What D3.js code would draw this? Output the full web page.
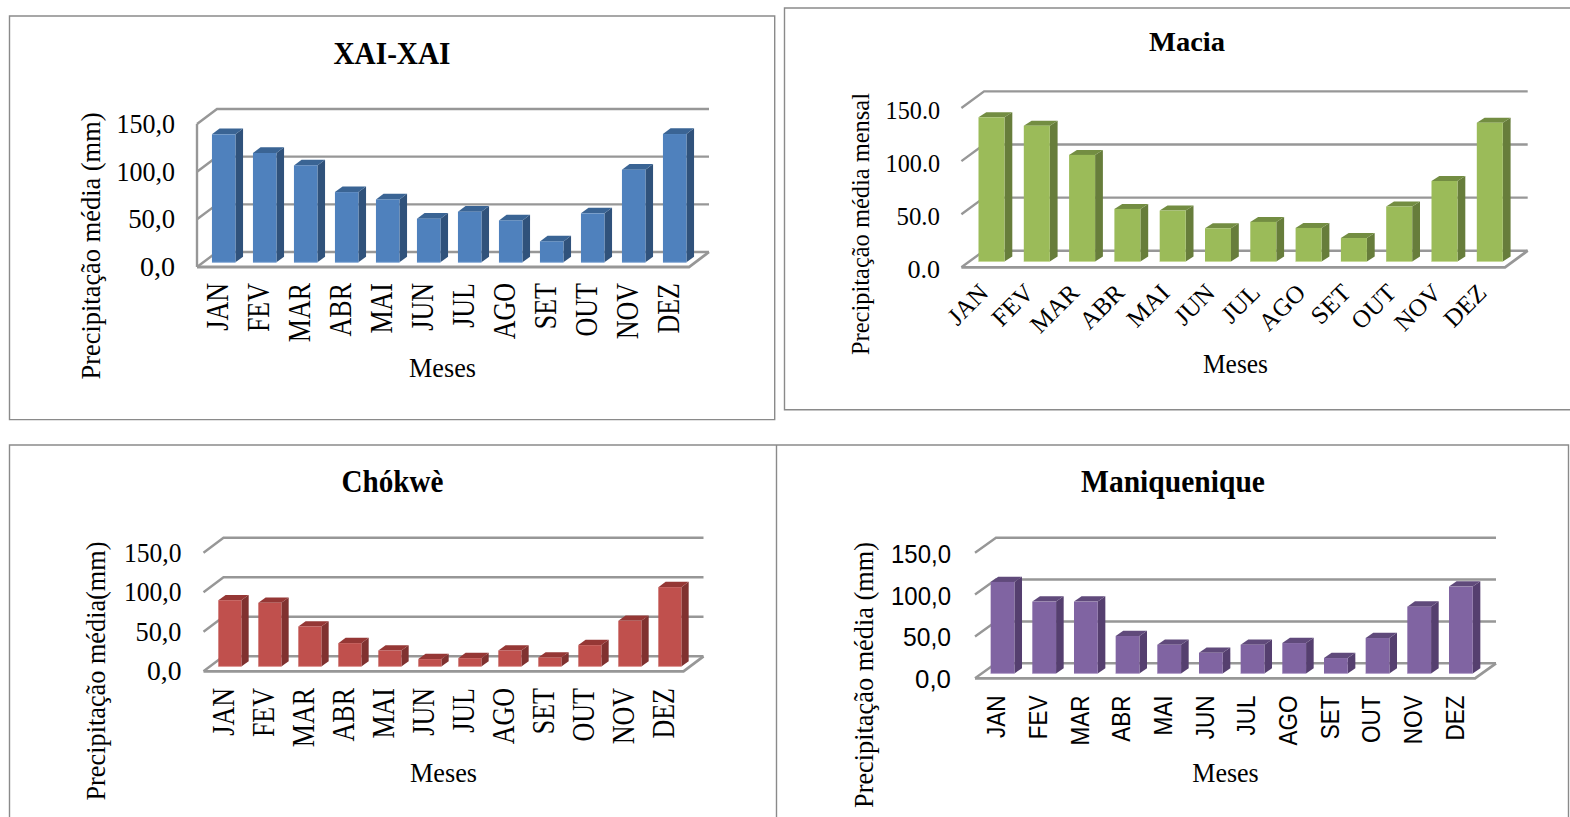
<!DOCTYPE html>
<html>
<head>
<meta charset="utf-8">
<title>Precipitação média mensal</title>
<script src="https://cdnjs.cloudflare.com/ajax/libs/d3/7.8.5/d3.min.js"></script>
<style>
  html, body { margin: 0; padding: 0; background: #fff; overflow: hidden; }
  svg { display: block; }
</style>
</head>
<body>
<svg id="chart" width="1570" height="817"></svg>
<script>
// Monthly mean rainfall per station, in mm
const months = ["JAN", "FEV", "MAR", "ABR", "MAI", "JUN", "JUL", "AGO", "SET", "OUT", "NOV", "DEZ"];
const axisTicks = [0, 50, 100, 150];
const xaiXaiValues = [134.3, 114.7, 101.7, 73.7, 66.0, 45.8, 53.1, 44.0, 22.0, 51.4, 97.2, 134.6];
const maciaValues = [135.8, 127.9, 100.4, 49.5, 48.0, 31.3, 37.3, 31.6, 22.1, 51.8, 75.8, 130.7];
const chokweValues = [83.8, 80.5, 50.6, 29.5, 20.2, 9.3, 10.5, 20.2, 11.4, 27.0, 57.7, 100.3];
const maniqueniqueValues = [109.3, 85.8, 85.8, 44.7, 34.3, 24.7, 34.3, 36.3, 18.4, 42.3, 79.8, 103.7];

const SERIF = "'Liberation Serif', 'Times New Roman', serif";
const SANS = "'Liberation Sans', Arial, sans-serif";
const GRID = "#979797";

const panels = [
  {
    title: "XAI-XAI", yTitle: "Precipitação média (mm)", values: xaiXaiValues, decimal: ",",
    fill: "#4f81bd", side: "#30527b", top: "#3a6494", edge: "#8fb0d8",
    left: 197, right: 689, y0: 267, y150: 124, depthX: 20, depthY: 15, barDepthX: 7.6, barDepthY: 5.7,
    barRatio: 0.573, wall: true,
    titleX: 392, titleY: 63.5, titleLen: 117, titleSize: 31,
    tickRight: 175, tickLen: 58.5, tickSize: 27, tickFont: SERIF, tickDy: 8.5,
    catY: 283, catSize: 26, catStretch: 1.2, catFont: SERIF, catAngle: -90, catShift: 0.5,
    xTitleX: 442.5, xTitleY: 377, xTitleLen: 67,
    yTitleX: 99.5, yTitleY: 246, yTitleLen: 267, yTitleSize: 27
  },
  {
    title: "Macia", yTitle: "Precipitação média mensal", values: maciaValues, decimal: ".",
    fill: "#9bbb59", side: "#677d3b", top: "#738d42", edge: "#c6d99a",
    left: 961.4, right: 1505, y0: 267.3, y150: 108, depthX: 22.7, depthY: 16.6, barDepthX: 7.8, barDepthY: 5,
    barRatio: 0.574, wall: false,
    titleX: 1187, titleY: 50.5, titleLen: 76, titleSize: 28,
    tickRight: 940, tickLen: 54.4, tickSize: 26, tickFont: SERIF, tickDy: 10,
    catY: 289, catSize: 25, catStretch: 1, catFont: SERIF, catAngle: -45, catShift: 0.5,
    xTitleX: 1235.5, xTitleY: 372.5, xTitleLen: 65,
    yTitleX: 868.5, yTitleY: 224, yTitleLen: 262, yTitleSize: 25
  },
  {
    title: "Chókwè", yTitle: "Precipitação média(mm)", values: chokweValues, decimal: ",",
    fill: "#c0504d", side: "#803230", top: "#953735", edge: "#dd9795",
    left: 203.5, right: 683.5, y0: 671.3, y150: 552.7, depthX: 20, depthY: 15, barDepthX: 7.3, barDepthY: 5.3,
    barRatio: 0.576, wall: false,
    titleX: 392.5, titleY: 492, titleLen: 102, titleSize: 31,
    tickRight: 181.5, tickLen: 57.5, tickSize: 27, tickFont: SERIF, tickDy: 8.5,
    catY: 688, catSize: 26, catStretch: 1.2, catFont: SERIF, catAngle: -90, catShift: 0.5,
    xTitleX: 443.5, xTitleY: 781.5, xTitleLen: 67,
    yTitleX: 104.5, yTitleY: 671, yTitleLen: 259, yTitleSize: 27
  },
  {
    title: "Maniquenique", yTitle: "Precipitação média (mm)", values: maniqueniqueValues, decimal: ",",
    fill: "#8064a2", side: "#553f6f", top: "#604a7b", edge: "#b5a2cb",
    left: 975, right: 1475, y0: 678.3, y150: 552.7, depthX: 21, depthY: 15, barDepthX: 7.6, barDepthY: 5.3,
    barRatio: 0.57, wall: false,
    titleX: 1173, titleY: 492, titleLen: 184, titleSize: 31,
    tickRight: 951, tickLen: 60, tickSize: 25, tickFont: SANS, tickDy: 9.5,
    catY: 695.5, catSize: 22.5, catStretch: 1.13, catFont: SANS, catAngle: -90, catShift: 1,
    xTitleX: 1225.5, xTitleY: 781.5, xTitleLen: 66.5,
    yTitleX: 873, yTitleY: 675, yTitleLen: 266, yTitleSize: 27
  }
];

const svg = d3.select("#chart");

// Outer frames of the four chart boxes
const frames = svg.append("g").attr("fill", "none").attr("stroke", "#8a8a8a").attr("stroke-width", 1.4);
frames.append("path").attr("d", "M9.5,16H774.7V419.6H9.5Z");
frames.append("path").attr("d", "M1570,8H784.5V409.8H1570");
frames.append("path").attr("d", "M9.5,817V445H1568.5V817M776.5,445V817");

// Text squeezed to a known run length so every label fills its slot
function fit(sel, length) {
  return sel.attr("textLength", length).attr("lengthAdjust", "spacingAndGlyphs");
}

panels.forEach(p => {
  const g = svg.append("g");

  const x = d3.scaleBand().domain(months).range([p.left, p.right])
    .paddingInner(1 - p.barRatio).paddingOuter((1 - p.barRatio) / 2);
  const y = d3.scaleLinear().domain([0, 150]).range([p.y0, p.y150]);

  // Bars sit halfway through the floor depth
  const insetX = (p.depthX - p.barDepthX) / 2;
  const insetY = (p.depthY - p.barDepthY) / 2;

  // Back-wall gridlines with their diagonal returns on the side wall
  const grid = g.append("g").attr("fill", "none").attr("stroke", GRID).attr("stroke-width", 2.4);
  grid.selectAll("path.grid").data(axisTicks).join("path")
    .attr("class", "grid")
    .attr("d", t => `M${p.left},${y(t)}L${p.left + p.depthX},${y(t) - p.depthY}H${p.right + p.depthX}`);

  // Floor outline
  grid.append("path")
    .attr("stroke-width", 2.8)
    .attr("d", `M${p.left},${p.y0}H${p.right}L${p.right + p.depthX},${p.y0 - p.depthY}`);
  if (p.wall) {
    grid.append("path").attr("d", `M${p.left},${y(150)}V${p.y0}`);
  }

  // Extruded columns: side face, top face, front face
  const bar = g.selectAll("g.bar").data(p.values).join("g").attr("class", "bar");
  const bx = (d, i) => x(months[i]) + insetX;
  const by = d => y(d) - insetY;
  const bw = x.bandwidth();
  const base = y(0) - insetY;

  bar.append("path").attr("fill", p.side)
    .attr("d", (d, i) => {
      const r = bx(d, i) + bw;
      return `M${r},${by(d)}l${p.barDepthX},${-p.barDepthY}V${base - p.barDepthY}L${r},${base}Z`;
    });
  bar.append("path").attr("fill", p.top)
    .attr("d", (d, i) => `M${bx(d, i)},${by(d)}l${p.barDepthX},${-p.barDepthY}h${bw}l${-p.barDepthX},${p.barDepthY}Z`);
  bar.append("rect").attr("fill", p.fill)
    .attr("x", bx).attr("y", by).attr("width", bw).attr("height", d => base - by(d));
  bar.append("line").attr("stroke", p.edge).attr("stroke-width", 1)
    .attr("x1", bx).attr("x2", (d, i) => bx(d, i) + bw).attr("y1", base).attr("y2", base);

  // Value axis
  const fmt = d3.format(".1f");
  const yAxis = g.append("g")
    .attr("transform", `translate(${p.tickRight},0)`)
    .call(d3.axisLeft(y).tickValues(axisTicks).tickSize(0).tickPadding(0)
      .tickFormat(t => fmt(t).replace(".", p.decimal)));
  yAxis.select(".domain").remove();
  yAxis.selectAll("text")
    .attr("font-family", p.tickFont).attr("font-size", p.tickSize).attr("fill", "#000")
    .attr("x", 0).attr("dy", null).attr("y", p.tickDy)
    .each(function () { fit(d3.select(this), p.tickLen * this.textContent.length / 5); });

  // Month axis
  const xAxis = g.append("g")
    .attr("transform", `translate(${p.catShift},${p.catY})`)
    .call(d3.axisBottom(x).tickSize(0).tickPadding(0));
  xAxis.select(".domain").remove();
  xAxis.selectAll("text")
    .attr("font-family", p.catFont).attr("font-size", p.catSize).attr("fill", "#000")
    .attr("text-anchor", "end").attr("x", 0).attr("y", 0)
    .attr("dy", p.catAngle === -90 ? "0.33em" : "0.3em")
    .attr("transform", `rotate(${p.catAngle}) scale(1,${p.catStretch})`);

  // Title and axis captions
  fit(g.append("text").text(p.title)
    .attr("x", p.titleX).attr("y", p.titleY).attr("text-anchor", "middle")
    .attr("font-family", SERIF).attr("font-weight", "bold").attr("font-size", p.titleSize), p.titleLen);
  fit(g.append("text").text("Meses")
    .attr("x", p.xTitleX).attr("y", p.xTitleY).attr("text-anchor", "middle")
    .attr("font-family", SERIF).attr("font-size", 27), p.xTitleLen);
  fit(g.append("text").text(p.yTitle)
    .attr("transform", `translate(${p.yTitleX},${p.yTitleY}) rotate(-90)`)
    .attr("text-anchor", "middle")
    .attr("font-family", SERIF).attr("font-size", p.yTitleSize), p.yTitleLen);
});
</script>
</body>
</html>
